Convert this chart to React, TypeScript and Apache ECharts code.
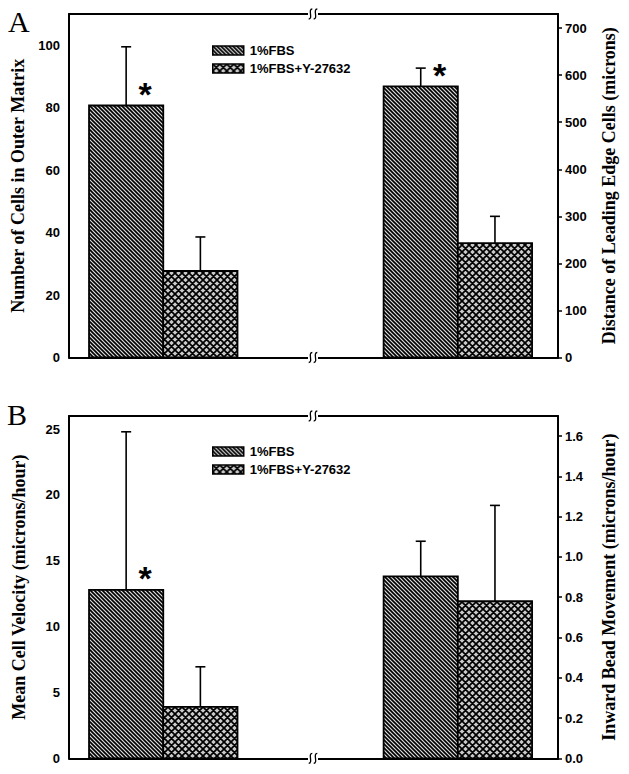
import React, { useEffect, useRef } from "react";
import * as echarts from "echarts";

// ---------- data ----------
const treatments = ["1%FBS", "1%FBS+Y-27632"];

// Panel A, left axis: Number of Cells in Outer Matrix
const outerCellsMean = [80.7, 27.7];
const outerCellsErr = [18.8, 10.9];
const outerCellsSig = [1, 0];
const outerCellsTicks = [0, 20, 40, 60, 80, 100];

// Panel A, right axis: Distance of Leading Edge Cells (microns)
const leadingEdgeMean = [576, 243];
const leadingEdgeErr = [39, 57];
const leadingEdgeSig = [1, 0];
const leadingEdgeTicks = [0, 100, 200, 300, 400, 500, 600, 700];

// Panel B, left axis: Mean Cell Velocity (microns/hour)
const velocityMean = [12.8, 3.9];
const velocityErr = [12.0, 3.05];
const velocitySig = [1, 0];
const velocityTicks = [0, 5, 10, 15, 20, 25];

// Panel B, right axis: Inward Bead Movement (microns/hour)
const beadMean = [0.904, 0.78];
const beadErr = [0.174, 0.476];
const beadSig = [0, 0];
const beadTicks = [0, 0.2, 0.4, 0.6, 0.8, 1.0, 1.2, 1.4, 1.6];

// ---------- layout / style ----------
const GRID_LEFT = 69;
const GRID_W = 489;
const GRID_A = { top: 14, height: 343.5 };
const GRID_B = { top: 416, height: 342.3 };
const X_MIN = -0.32;
const X_MAX = 1.34;
const BAR_W = 0.252; // in x units
const SANS = '"Liberation Sans", Arial, sans-serif';
const SERIF = '"Liberation Serif", "Times New Roman", serif';

function makeDiagCanvas() {
  const p = 4;
  const c = document.createElement("canvas");
  c.width = p;
  c.height = p;
  const ctx = c.getContext("2d")!;
  ctx.fillStyle = "#dcdcdc";
  ctx.fillRect(0, 0, p, p);
  ctx.strokeStyle = "#000";
  ctx.lineWidth = 1.6;
  ctx.beginPath();
  ctx.moveTo(-1, -1);
  ctx.lineTo(p + 1, p + 1);
  ctx.moveTo(-1, p - 1);
  ctx.lineTo(1, p + 1);
  ctx.moveTo(p - 1, -1);
  ctx.lineTo(p + 1, 1);
  ctx.stroke();
  return c;
}

function makeCrossCanvas() {
  const p = 7;
  const c = document.createElement("canvas");
  c.width = p;
  c.height = p;
  const ctx = c.getContext("2d")!;
  ctx.fillStyle = "#cacaca";
  ctx.fillRect(0, 0, p, p);
  ctx.strokeStyle = "#000";
  ctx.lineWidth = 1.7;
  ctx.beginPath();
  ctx.moveTo(-1, -1);
  ctx.lineTo(p + 1, p + 1);
  ctx.moveTo(-1, p - 1);
  ctx.lineTo(1, p + 1);
  ctx.moveTo(p - 1, -1);
  ctx.lineTo(p + 1, 1);
  ctx.moveTo(p + 1, -1);
  ctx.lineTo(-1, p + 1);
  ctx.moveTo(1, -1);
  ctx.lineTo(-1, 1);
  ctx.moveTo(p + 1, p - 1);
  ctx.lineTo(p - 1, p + 1);
  ctx.stroke();
  return c;
}

export default function App() {
  const ref = useRef<HTMLDivElement>(null);

  useEffect(() => {
    if (!ref.current) return;
    const chart = echarts.init(ref.current, null, { renderer: "svg" });

    const diag = makeDiagCanvas();
    const cross = makeCrossCanvas();
    const patterns: any[] = [
      { image: diag, repeat: "repeat", imageWidth: diag.width, imageHeight: diag.height },
      { image: cross, repeat: "repeat", imageWidth: cross.width, imageHeight: cross.height },
    ];

    const makeRenderItem = (t: number) => (params: any, api: any) => {
      const g = api.value(0);
      const mean = api.value(1);
      const err = api.value(2);
      const sig = api.value(3);
      const unit = api.size([1, 0])[0];
      const w = BAR_W * unit;
      const base = api.coord([g, 0]);
      const top = api.coord([g, mean]);
      const eTop = api.coord([g, mean + err]);
      const x0 = base[0] + (t === 0 ? -w : 0);
      const cx = x0 + w / 2;
      const children: any[] = [
        {
          type: "line",
          shape: { x1: cx, y1: top[1], x2: cx, y2: eTop[1] },
          style: { stroke: "#000", lineWidth: 1.6 },
        },
        {
          type: "line",
          shape: { x1: cx - 5, y1: eTop[1], x2: cx + 5, y2: eTop[1] },
          style: { stroke: "#000", lineWidth: 1.6 },
        },
        {
          type: "rect",
          shape: { x: x0, y: top[1], width: w, height: base[1] - top[1] },
          style: { fill: patterns[t], stroke: "#000", lineWidth: 1.8 },
        },
      ];
      if (sig) {
        children.push({
          type: "text",
          style: {
            text: "*",
            x: cx + 19,
            y: top[1] - 11.5,
            fill: "#000",
            font: `bold 34px ${SANS}`,
            align: "center",
            verticalAlign: "middle",
          },
        });
      }
      return { type: "group", children };
    };

    const mk = (
      t: number,
      group: number,
      mean: number[],
      err: number[],
      sig: number[],
      xi: number,
      yi: number
    ) => ({
      type: "custom",
      name: treatments[t],
      xAxisIndex: xi,
      yAxisIndex: yi,
      renderItem: makeRenderItem(t),
      encode: { x: 0, y: 1 },
      itemStyle: { color: patterns[t], borderColor: "#000", borderWidth: 1.5 },
      data: [[group, mean[t], err[t], sig[t]]],
      z: 2,
    });

    const series: any[] = [];
    for (let t = 0; t < 2; t++) {
      series.push(mk(t, 0, outerCellsMean, outerCellsErr, outerCellsSig, 0, 0));
      series.push(mk(t, 1, leadingEdgeMean, leadingEdgeErr, leadingEdgeSig, 0, 1));
      series.push(mk(t, 0, velocityMean, velocityErr, velocitySig, 2, 2));
      series.push(mk(t, 1, beadMean, beadErr, beadSig, 2, 3));
    }

    const axisLine = { show: true, onZero: false, lineStyle: { color: "#000", width: 2 } };
    const xAxisBase = (gridIndex: number, position: string) => ({
      type: "value",
      gridIndex,
      position,
      min: X_MIN,
      max: X_MAX,
      axisLine,
      axisTick: { show: false },
      axisLabel: { show: false },
      splitLine: { show: false },
    });

    const labelStyle = {
      color: "#000",
      fontFamily: SANS,
      fontWeight: "bold",
      fontSize: 13,
    };
    const nameStyle = {
      color: "#000",
      fontFamily: SERIF,
      fontWeight: "bold",
      fontSize: 18,
    };

    const yAxis = (
      gridIndex: number,
      position: string,
      ticks: number[],
      max: number,
      name: string,
      digits: number
    ) => ({
      type: "value",
      gridIndex,
      position,
      min: 0,
      max,
      interval: ticks[1] - ticks[0],
      name,
      nameLocation: "middle",
      nameRotate: 90,
      nameGap: position === "left" ? 41 : 42,
      nameTextStyle: nameStyle,
      axisLine,
      axisTick: {
        show: position === "right",
        length: 4,
        lineStyle: { color: "#000", width: 1.5 },
        customValues: ticks,
      },
      axisLabel: {
        ...labelStyle,
        margin: position === "left" ? 9 : 7,
        customValues: ticks,
        formatter: (v: number) => v.toFixed(digits),
      },
      splitLine: { show: false },
    });

    const legend = (top: number) => ({
      orient: "vertical",
      left: 207,
      top,
      itemWidth: 31,
      itemHeight: 9,
      itemGap: 4,
      icon: "rect",
      selectedMode: false,
      data: treatments,
      itemStyle: { borderColor: "#000", borderWidth: 1.5 },
      textStyle: { ...labelStyle, lineHeight: 14, padding: [0, 0, 0, 1] },
    });

    // axis break marks
    const breakYs = [
      GRID_A.top,
      GRID_A.top + GRID_A.height,
      GRID_B.top,
      GRID_B.top + GRID_B.height,
    ];
    const breakX = 313;
    const breaks: any[] = [];
    breakYs.forEach((y) => {
      breaks.push({
        type: "rect",
        shape: { x: breakX - 5, y: y - 3, width: 10, height: 6 },
        style: { fill: "#fff" },
        z: 50,
      });
      [-2.5, 2.5].forEach((dx) => {
        const cx = breakX + dx;
        breaks.push({
          type: "bezierCurve",
          shape: {
            x1: cx + 1.8,
            y1: y - 5,
            cpx1: cx - 3,
            cpy1: y - 5,
            cpx2: cx + 3,
            cpy2: y + 5,
            x2: cx - 1.8,
            y2: y + 5,
          },
          style: { stroke: "#000", lineWidth: 1.3, fill: null },
          z: 51,
        });
      });
    });

    chart.setOption({
      animation: false,
      backgroundColor: "#fff",
      grid: [
        { left: GRID_LEFT, top: GRID_A.top, width: GRID_W, height: GRID_A.height },
        { left: GRID_LEFT, top: GRID_B.top, width: GRID_W, height: GRID_B.height },
      ],
      xAxis: [
        xAxisBase(0, "bottom"),
        xAxisBase(0, "top"),
        xAxisBase(1, "bottom"),
        xAxisBase(1, "top"),
      ],
      yAxis: [
        yAxis(0, "left", outerCellsTicks, 110, "Number of Cells in Outer Matrix", 0),
        yAxis(0, "right", leadingEdgeTicks, 730, "Distance of Leading Edge Cells (microns)", 0),
        yAxis(1, "left", velocityTicks, 26, "Mean Cell Velocity (microns/hour)", 0),
        yAxis(1, "right", beadTicks, 1.7, "Inward Bead Movement (microns/hour)", 1),
      ],
      legend: [legend(38.5), legend(439.5)],
      graphic: [
        {
          type: "text",
          left: 8,
          top: 6,
          style: { text: "A", font: `30px ${SERIF}`, fill: "#000" },
          z: 60,
        },
        {
          type: "text",
          left: 7,
          top: 399,
          style: { text: "B", font: `30px ${SERIF}`, fill: "#000" },
          z: 60,
        },
        ...breaks,
      ],
      series,
    });

    return () => chart.dispose();
  }, []);

  return (
    <div
      ref={ref}
      style={{ position: "fixed", left: 0, top: 0, width: 629, height: 774 }}
    />
  );
}
